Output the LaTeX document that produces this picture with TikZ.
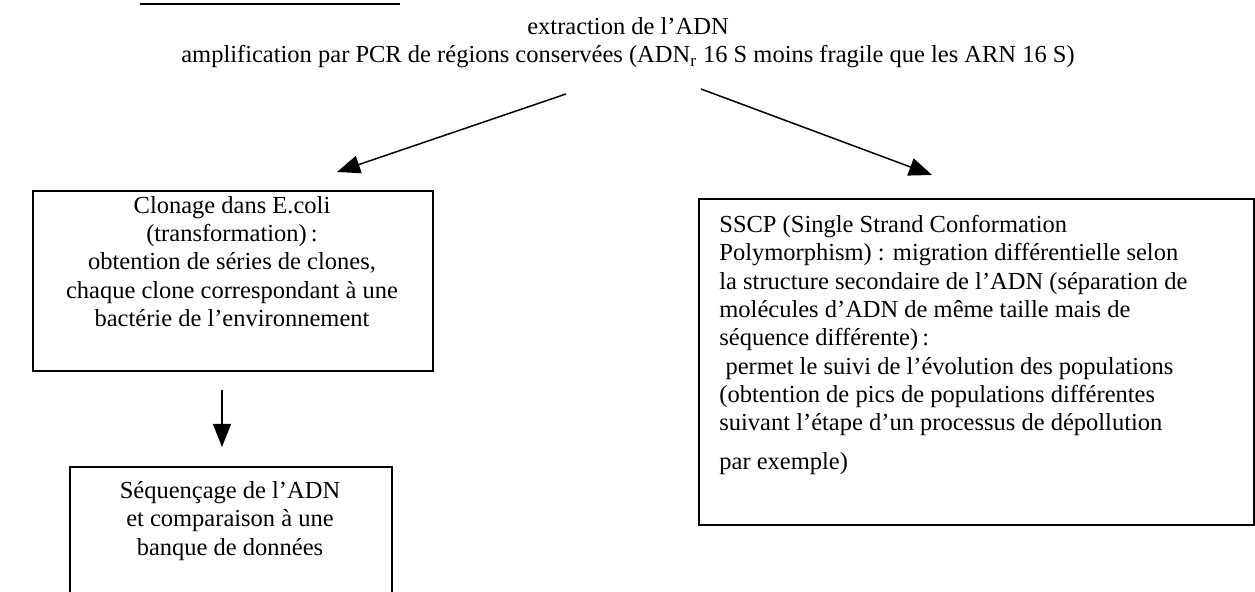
\documentclass[tikz,border=0pt]{standalone}
\usepackage{fontspec}
\setmainfont{Liberation Serif}
\usetikzlibrary{arrows.meta}

\begin{document}
\begin{tikzpicture}[x=0.5pt, y=-0.5pt,
    cadre/.style={draw, line width=1pt, rectangle, inner sep=0pt, anchor=north west},
    texte/.style={inner sep=0pt, font=\fontsize{12.25}{14.15}\selectfont},
    fleche/.style={line width=0.75pt, -{Triangle[length=11.5pt, width=9pt]}}]
    \useasboundingbox (0,0) rectangle (1255,592);

    % soulignement du titre (coupe en haut)
    \draw[line width=1.25pt] (140,4) -- (400,4);

    % extraction + PCR
    \node[texte, align=center, anchor=north] (pcr) at (628,17)
        {extraction de l’ADN\\ amplification par PCR de régions conservées (ADN\textsubscript{r} 16 S moins fragile que les ARN 16 S)};

    % clonage
    \node[cadre, minimum width=200pt, minimum height=90pt] (clonage) at (32,190) {};
    \node[texte, align=center, anchor=north] (clonagetxt) at (232,196)
        {Clonage dans E.coli\\ (transformation)\,:\\ obtention de séries de clones,\\ chaque clone correspondant à une\\ bactérie de l’environnement};

    % sequencage
    \node[cadre, minimum width=161pt, minimum height=80pt] (sequence) at (69,466) {};
    \node[texte, align=center, anchor=north] (sequencetxt) at (230,481)
        {Séquençage de l’ADN\\ et comparaison à une\\ banque de données};

    % SSCP
    \node[cadre, minimum width=277.5pt, minimum height=163pt] (sscp) at (698,198) {};
    \node[texte, align=left, anchor=north west] (sscptxt) at (719,215)
        {SSCP (Single Strand Conformation\\
         Polymorphism) : migration différentielle selon\\
         la structure secondaire de l’ADN (séparation de\\
         molécules d’ADN de même taille mais de\\
         séquence différente)\,:\\
         \ permet le suivi de l’évolution des populations\\
         (obtention de pics de populations différentes\\
         suivant l’étape d’un processus de dépollution\\[5pt]
         par exemple)};

    % fleches
    \coordinate (depg) at (566,94);
    \coordinate (arrg) at (337,172);
    \coordinate (depd) at (701,89);
    \coordinate (arrd) at (932,175);
    \coordinate (depb) at (222,390);
    \coordinate (arrb) at (222,447);
    \draw[fleche] (depg) -- (arrg);
    \draw[fleche] (depd) -- (arrd);
    \draw[fleche] (depb) -- (arrb);
\end{tikzpicture}
\end{document}
